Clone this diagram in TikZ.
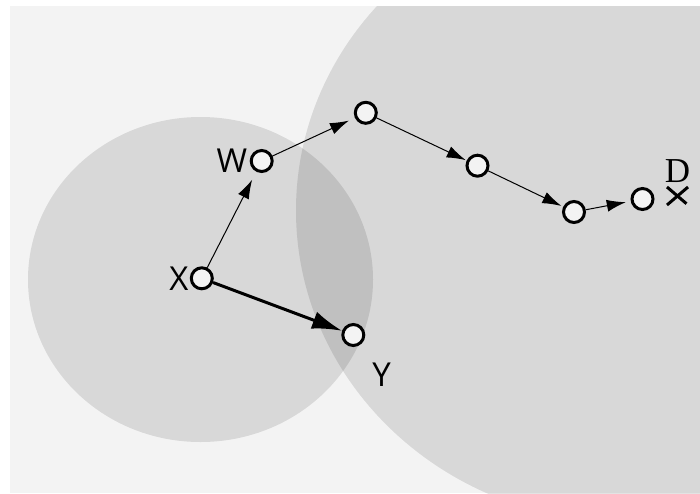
\documentclass[tikz,border=0pt]{standalone}
\usepackage{fontspec}
\setsansfont{Open Sans}
\newfontfamily\dfont{Liberation Serif}
\usepackage{tikz}
\usetikzlibrary{positioning, arrows.meta, shapes.misc}
\definecolor{paper}{gray}{0.953}

\begin{document}
\begin{tikzpicture}[x=1pt,y=-1pt,line width=1pt,shorten >=2pt,>={Latex[length=19pt,width=12pt]}]
  \tikzstyle{hop}=[circle, draw, line width=3pt, fill=paper, minimum size=21pt, inner sep=0pt]
  \tikzstyle{lbl}=[inner sep=0pt, font=\sffamily\fontsize{33pt}{36pt}\selectfont]
  \tikzstyle{radiozone}=[fill=black, fill opacity=0.11]
  \useasboundingbox (0,0) rectangle (700,493);
  \fill[paper] (10,6) rectangle (700,493);
  % the two radio ranges
  \begin{scope}
    \clip (10,6) rectangle (700,493);
    \fill[radiozone] (200.5,279.5) ellipse [x radius=172.5, y radius=162.5];
    \fill[radiozone] (627,210.5) ellipse [x radius=331, y radius=312];
  \end{scope}
  \node[hop] (nX) at (201.8,278.3) {};
  \node[hop] (nW) at (261.7,161) {};
  \node[hop] (nY) at (353.3,335) {};
  \node[hop] (h1) at (365.8,112.8) {};
  \node[hop] (h2) at (477.5,165.7) {};
  \node[hop] (h3) at (574,212) {};
  \node[hop] (h4) at (642.5,199) {};
  \node[draw, cross out, line width=3pt, minimum width=18pt, minimum height=15pt] (dst) at (677.5,196) {};
  \node[lbl, left=2pt of nW] (lW) {W};
  \node[lbl, left=1pt of nX] (lX) {X};
  \node[lbl, below right=19pt and 10pt of nY] (lY) {Y};
  \node[inner sep=0pt, font=\dfont\fontsize{35pt}{38pt}\selectfont, above=4pt of dst] (lD) {D};
  \path [->]
    (nX) edge[shorten >=9pt] (nW)
    (nW) edge[shorten >=6.5pt] (h1)
    (h1) edge[shorten >=1pt] (h2)
    (h2) edge (h3)
    (h3) edge[shorten >=5pt] (h4)
    (nX) edge[line width=3pt, shorten >=0pt, >={Latex[length=30pt,width=18pt]}] (nY)
    ;
\end{tikzpicture}
\end{document}
